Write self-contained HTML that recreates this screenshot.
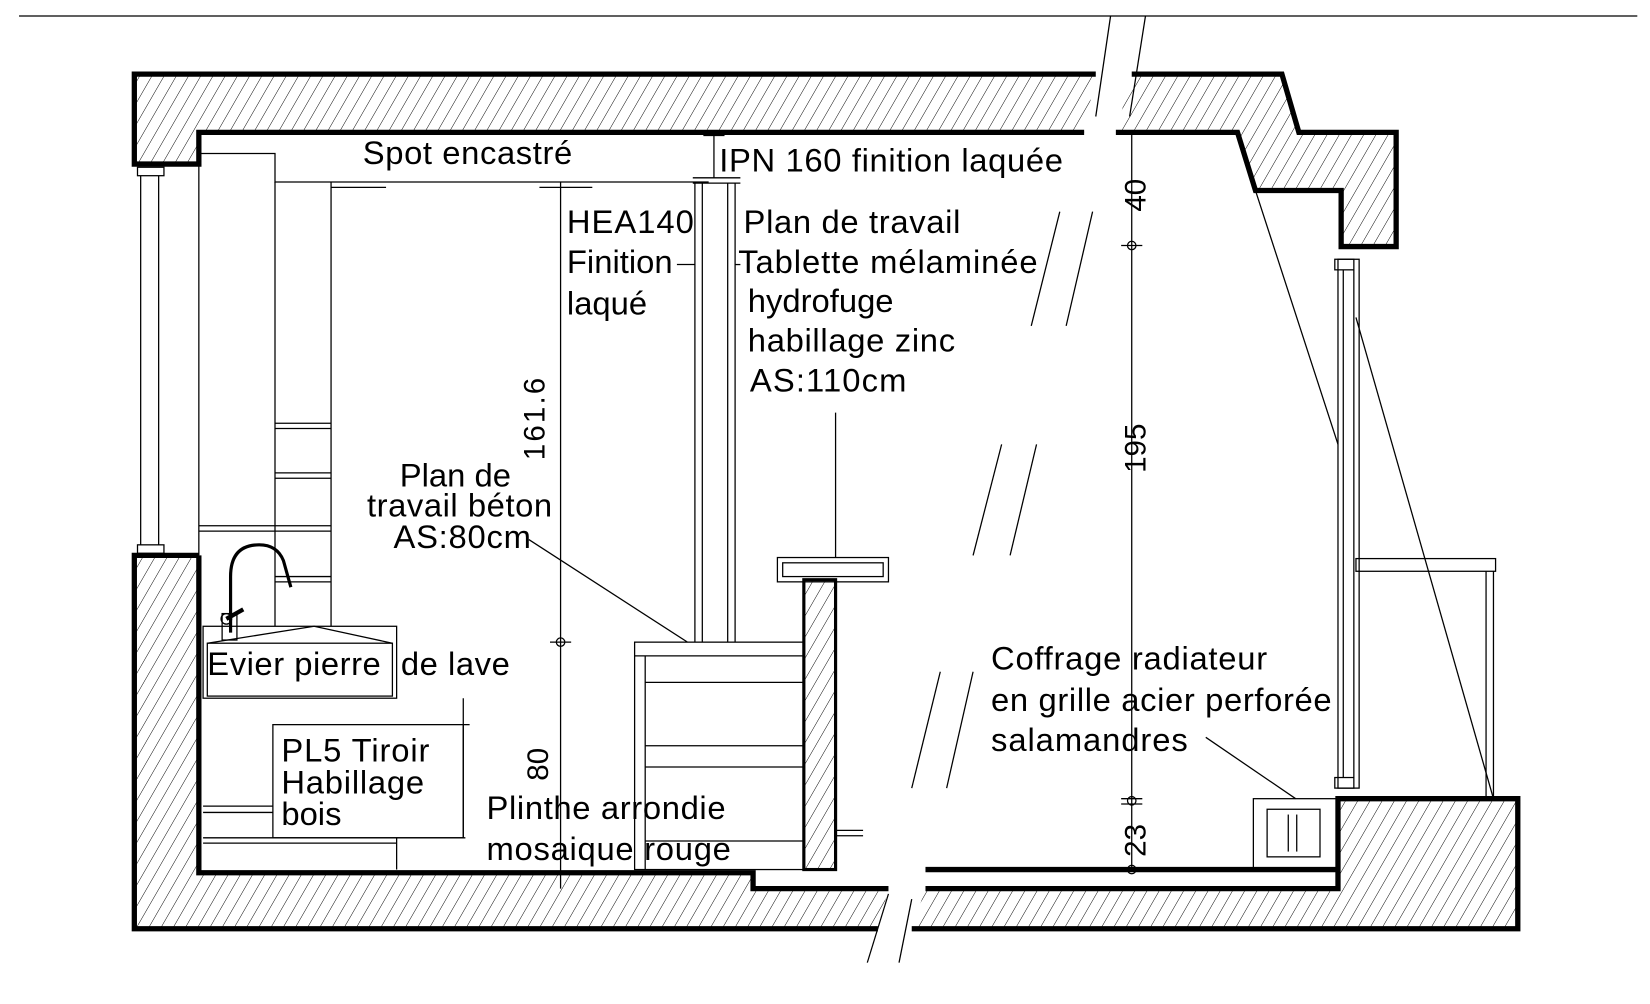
<!DOCTYPE html>
<html><head><meta charset="utf-8"><style>
html,body{margin:0;padding:0;background:#fff;}
svg{display:block}
text{font-family:"Liberation Sans",sans-serif;fill:#000}
</style></head><body>
<svg width="1650" height="1004" viewBox="0 0 1560 949" xmlns="http://www.w3.org/2000/svg">
<defs>
<pattern id="h" patternUnits="userSpaceOnUse" width="10" height="10" patternTransform="rotate(30)">
<line x1="0" y1="0" x2="0" y2="10" stroke="#000" stroke-width="0.9"/>
</pattern>
</defs>
<rect width="1560" height="949" fill="#fff"/>
<line x1="18" y1="15" x2="1548" y2="15" stroke="#000" stroke-width="1.2"/>

<polygon points="127,70 1036,70 1025,125 188,125 188,155 127,155" fill="url(#h)"/>
<polygon points="1070,70 1212,70 1228,125 1320,125 1320,233 1268,233 1268,180 1187,180 1170,125 1055,125" fill="url(#h)"/>
<polygon points="127,525 188,525 188,825 712,825 712,840 840,840 830,878 127,878" fill="url(#h)"/>
<polygon points="875,840 1265,840 1265,755 1435,755 1435,878 862,878" fill="url(#h)"/>
<rect x="760" y="548" width="30" height="274" fill="url(#h)"/>

<g fill="none" stroke="#000" stroke-width="5">
<polyline points="1036,70 127,70 127,155 188,155 188,125 1025,125"/>
<polyline points="1070,70 1212,70 1228,125 1320,125 1320,233 1268,233 1268,180 1187,180 1170,125 1055,125"/>
<polyline points="188,525 127,525 127,878 830,878"/>
<polyline points="188,525 188,825 712,825 712,840 840,840"/>
<polyline points="875,822 1265,822"/>
<polyline points="875,840 1265,840 1265,755 1435,755 1435,878 862,878"/>
</g>
<rect x="760" y="548" width="30" height="274" fill="none" stroke="#000" stroke-width="3"/>

<g fill="none" stroke="#000" stroke-width="1.2">
<line x1="1050" y1="15" x2="1036" y2="110"/><line x1="1083" y1="15" x2="1068" y2="110"/>
<line x1="840" y1="845" x2="820" y2="910"/><line x1="862" y1="850" x2="850" y2="910"/>
<rect x="130" y="158" width="25" height="8"/><rect x="130" y="515" width="25" height="8"/>
<line x1="133" y1="166" x2="133" y2="515"/><line x1="150" y1="166" x2="150" y2="515"/>
<line x1="188" y1="145" x2="188" y2="525"/>
<line x1="260" y1="172" x2="260" y2="592"/><line x1="313" y1="172" x2="313" y2="592"/>
<line x1="260" y1="400" x2="313" y2="400"/><line x1="260" y1="405" x2="313" y2="405"/>
<line x1="260" y1="447" x2="313" y2="447"/><line x1="260" y1="452" x2="313" y2="452"/>
<line x1="188" y1="497" x2="313" y2="497"/><line x1="188" y1="502" x2="313" y2="502"/>
<line x1="260" y1="545" x2="313" y2="545"/><line x1="260" y1="550" x2="313" y2="550"/>
<polyline points="188,145 260,145 260,172 670,172"/>
<line x1="313" y1="177" x2="365" y2="177"/><line x1="510" y1="177" x2="560" y2="177"/>
<line x1="675" y1="128" x2="675" y2="168"/><line x1="665" y1="128" x2="685" y2="128"/>
<line x1="655" y1="168" x2="700" y2="168"/><line x1="655" y1="173" x2="700" y2="173"/>
<line x1="657" y1="173" x2="657" y2="607"/><line x1="664" y1="173" x2="664" y2="607"/>
<line x1="688" y1="173" x2="688" y2="607"/><line x1="695" y1="173" x2="695" y2="607"/>
<line x1="640" y1="250" x2="657" y2="250"/><line x1="695" y1="250" x2="700" y2="250"/>
<line x1="530" y1="172" x2="530" y2="840"/>
<line x1="520" y1="607" x2="540" y2="607"/><circle cx="530" cy="607" r="4"/>
<rect x="600" y="607" width="160" height="215"/>
<line x1="600" y1="620" x2="760" y2="620"/><line x1="610" y1="645" x2="760" y2="645"/>
<line x1="610" y1="705" x2="760" y2="705"/><line x1="610" y1="725" x2="760" y2="725"/>
<line x1="610" y1="795" x2="760" y2="795"/><line x1="610" y1="620" x2="610" y2="822"/>
<line x1="790" y1="785" x2="816" y2="785"/><line x1="790" y1="790" x2="816" y2="790"/>
<rect x="735" y="527" width="105" height="23"/><rect x="740" y="532" width="95" height="13"/>
<line x1="790" y1="390" x2="790" y2="527"/>
<line x1="500" y1="510" x2="650" y2="607"/>
<rect x="192" y="592" width="183" height="68"/><rect x="196" y="608" width="175" height="50"/>
<polyline points="196,608 297,592 371,608"/>
<path d="M218,598 L218,545 Q218,515 245,515 Q262,515 268,530 L275,555" stroke-width="3"/>
<rect x="210" y="580" width="14" height="25"/><circle cx="214" cy="585" r="5"/>
<line x1="214" y1="585" x2="230" y2="576" stroke-width="4"/>
<rect x="258" y="685" width="180" height="107"/>
<line x1="438" y1="660" x2="438" y2="792"/>
<line x1="438" y1="685" x2="444" y2="685"/>
<line x1="192" y1="762" x2="258" y2="762"/><line x1="192" y1="768" x2="258" y2="768"/>
<line x1="192" y1="792" x2="440" y2="792"/><line x1="192" y1="797" x2="375" y2="797"/>
<line x1="375" y1="792" x2="375" y2="822"/>
<line x1="1070" y1="125" x2="1070" y2="822"/>
<line x1="1060" y1="232" x2="1080" y2="232"/><circle cx="1070" cy="232" r="4"/>
<line x1="1060" y1="755" x2="1080" y2="755"/><line x1="1060" y1="760" x2="1080" y2="760"/><circle cx="1070" cy="757" r="4"/>
<circle cx="1070" cy="822" r="4"/>
<rect x="1265" y="245" width="20" height="500"/>
<line x1="1270" y1="255" x2="1270" y2="735"/><line x1="1280" y1="255" x2="1280" y2="735"/>
<rect x="1262" y="245" width="18" height="10"/><rect x="1262" y="735" width="18" height="10"/>
<line x1="1187" y1="180" x2="1265" y2="420"/>
<line x1="1282" y1="300" x2="1412" y2="755"/>
<rect x="1282" y="528" width="132" height="12"/>
<line x1="1405" y1="540" x2="1405" y2="755"/><line x1="1412" y1="540" x2="1412" y2="755"/>
<rect x="1185" y="755" width="80" height="67"/>
<rect x="1198" y="765" width="50" height="45"/>
<line x1="1218" y1="770" x2="1218" y2="805"/><line x1="1226" y1="770" x2="1226" y2="805"/>
<line x1="1140" y1="697" x2="1225" y2="755"/>
<line x1="1002" y1="200" x2="975" y2="308"/><line x1="1033" y1="200" x2="1008" y2="308"/>
<line x1="947" y1="420" x2="920" y2="525"/><line x1="980" y1="420" x2="955" y2="525"/>
<line x1="889" y1="635" x2="862" y2="745"/><line x1="920" y1="635" x2="895" y2="745"/>
</g>

<g font-size="31">
<text x="343" y="155" textLength="198">Spot encastré</text>
<text x="680" y="162" textLength="325">IPN 160 finition laquée</text>
<text x="536" y="220" textLength="120">HEA140</text>
<text x="536" y="258">Finition</text>
<text x="536" y="297">laqué</text>
<text x="703" y="220" textLength="205">Plan de travail</text>
<text x="698" y="258" textLength="283">Tablette mélaminée</text>
<text x="707" y="295">hydrofuge</text>
<text x="707" y="332" textLength="196">habillage zinc</text>
<text x="709" y="370" textLength="148">AS:110cm</text>
<text x="378" y="460">Plan de</text>
<text x="347" y="488" textLength="175">travail béton</text>
<text x="372" y="518" textLength="130">AS:80cm</text>
<text x="196" y="638" textLength="164">Evier pierre</text>
<text x="379" y="638" textLength="103">de lave</text>
<text x="266" y="720" textLength="140">PL5 Tiroir</text>
<text x="266" y="750" textLength="135">Habillage</text>
<text x="266" y="780">bois</text>
<text x="460" y="774" textLength="226">Plinthe arrondie</text>
<text x="460" y="813" textLength="231">mosaique rouge</text>
<text x="937" y="633" textLength="261">Coffrage radiateur</text>
<text x="937" y="672" textLength="322">en grille acier perforée</text>
<text x="937" y="710" textLength="186">salamandres</text>
</g>
<g font-size="28">
<text transform="translate(515,435) rotate(-90)" textLength="78">161.6</text>
<text transform="translate(518,738) rotate(-90)">80</text>
<text transform="translate(1083,200) rotate(-90)">40</text>
<text transform="translate(1083,447) rotate(-90)">195</text>
<text transform="translate(1083,810) rotate(-90)">23</text>
</g>
</svg>
</body></html>
